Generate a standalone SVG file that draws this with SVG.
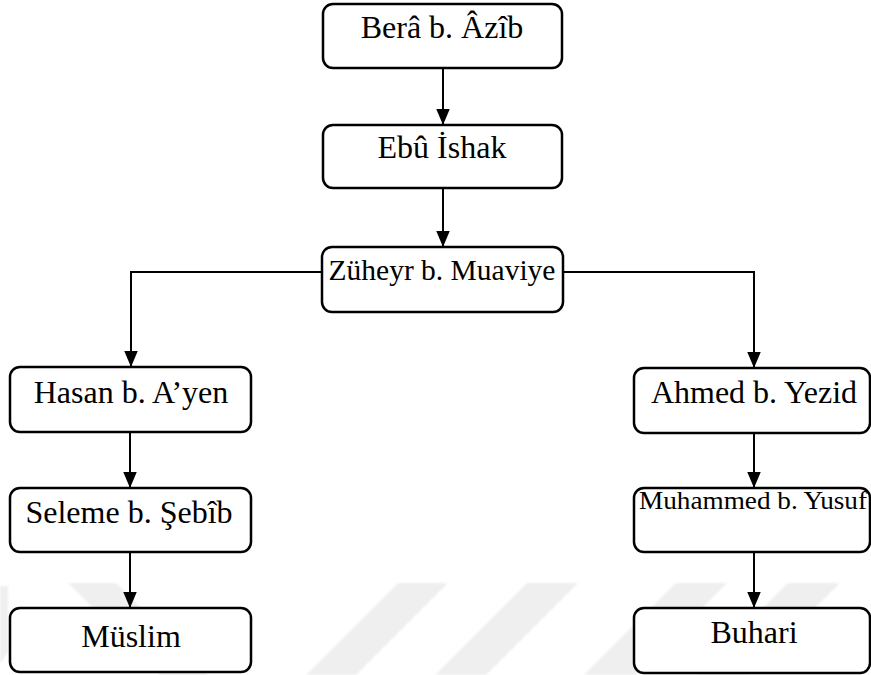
<svg xmlns="http://www.w3.org/2000/svg" width="871" height="675" viewBox="0 0 871 675">
  <style>
    .box { fill: #ffffff; stroke: #000000; stroke-width: 2.5; }
    .lbl { font-family: "Liberation Serif", "Times New Roman", serif; font-size: 32px; fill: #000000; text-anchor: middle; }
    .link { fill: none; stroke: #000000; stroke-width: 2; marker-end: url(#arrow); }
    .mark { fill: #efefef; }
  </style>
  <defs>
    <marker id="arrow" markerUnits="userSpaceOnUse" markerWidth="16" markerHeight="14" refX="16" refY="6.75" orient="auto" viewBox="0 0 16 13.5">
      <path d="M0,0 L16,6.75 L0,13.5 Z" fill="#000000"/>
    </marker>
    <filter id="soft" x="-5%" y="-5%" width="110%" height="110%">
      <feGaussianBlur stdDeviation="0.8"/>
    </filter>
  </defs>

  <rect width="871" height="675" fill="#ffffff"/>

  <!-- faint background stripes -->
  <g id="background-stripes" filter="url(#soft)">
    <polygon class="mark" points="0,586 8,586 8,652 0,664"/>
    <polygon class="mark" points="68,583 116,583 208,675 160,675"/>
    <polygon class="mark" points="398,583 448,583 356,675 306,675"/>
    <polygon class="mark" points="527,583 578,583 486,675 435,675"/>
    <polygon class="mark" points="676,583 727,583 635,675 584,675"/>
    <polygon class="mark" points="788,583 840,583 748,675 696,675"/>
  </g>

  <!-- connectors -->
  <g id="connectors">
    <path class="link" d="M443,68 V125"/>
    <path class="link" d="M443,188 V247"/>
    <path class="link" d="M322,272 H131 V367"/>
    <path class="link" d="M563,272 H754 V368"/>
    <path class="link" d="M130,432 V488"/>
    <path class="link" d="M130,552 V608"/>
    <path class="link" d="M754,433 V488"/>
    <path class="link" d="M754,552 V608"/>
  </g>

  <!-- nodes -->
  <g id="node-bera">
    <rect class="box" x="323" y="4" width="239" height="64" rx="10"/>
    <text class="lbl" x="442" y="38">Berâ b. Âzîb</text>
  </g>
  <g id="node-ebu-ishak">
    <rect class="box" x="323" y="125" width="239" height="63" rx="10"/>
    <text class="lbl" x="442" y="158">Ebû İshak</text>
  </g>
  <g id="node-zuheyr">
    <rect class="box" x="322" y="247" width="241" height="65" rx="10"/>
    <text class="lbl" x="442" y="280" style="font-size:29.5px">Züheyr b. Muaviye</text>
  </g>
  <g id="node-hasan">
    <rect class="box" x="10" y="367" width="241" height="65" rx="10"/>
    <text class="lbl" x="131" y="403">Hasan b. A’yen</text>
  </g>
  <g id="node-seleme">
    <rect class="box" x="10" y="488" width="241" height="64" rx="10"/>
    <text class="lbl" x="129" y="523">Seleme b. Şebîb</text>
  </g>
  <g id="node-muslim">
    <rect class="box" x="10" y="608" width="241" height="64" rx="10"/>
    <text class="lbl" x="131" y="647">Müslim</text>
  </g>
  <g id="node-ahmed">
    <rect class="box" x="634" y="368" width="236" height="65" rx="10"/>
    <text class="lbl" x="754" y="403">Ahmed b. Yezid</text>
  </g>
  <g id="node-muhammed">
    <rect class="box" x="634" y="488" width="236" height="64" rx="10"/>
    <text class="lbl" x="753" y="509" style="font-size:25px" textLength="228" lengthAdjust="spacingAndGlyphs">Muhammed b. Yusuf</text>
  </g>
  <g id="node-buhari">
    <rect class="box" x="634" y="608" width="236" height="65" rx="10"/>
    <text class="lbl" x="754" y="643">Buhari</text>
  </g>
</svg>
